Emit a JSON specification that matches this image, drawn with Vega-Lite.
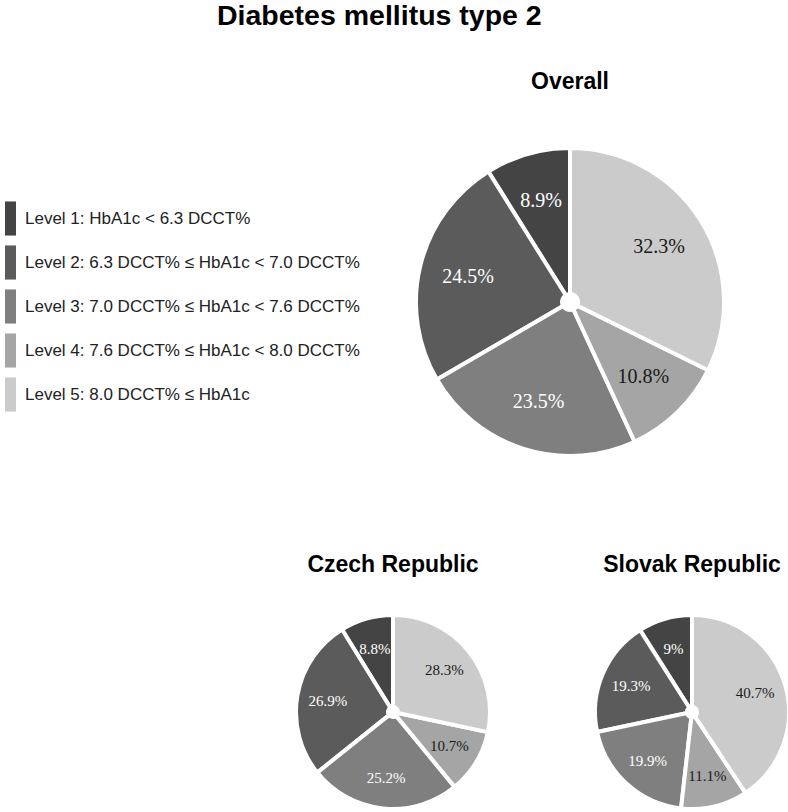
{
  "$schema": "https://vega.github.io/schema/vega-lite/v6.json",
  "background": "white",
  "padding": {"left": 2, "top": 1, "right": -56, "bottom": 0},
  "title": {
    "text": "Diabetes mellitus type 2",
    "font": "Liberation Sans",
    "fontSize": 28.5,
    "fontWeight": "bold",
    "color": "#000000",
    "anchor": "start",
    "frame": "bounds",
    "dx": 215,
    "offset": 41
  },
  "datasets": {
    "pies": [
      {"region": "Overall", "level": "Level 1: HbA1c < 6.3 DCCT%", "share": 0.089},
      {"region": "Overall", "level": "Level 2: 6.3 DCCT% ≤ HbA1c < 7.0 DCCT%", "share": 0.245},
      {"region": "Overall", "level": "Level 3: 7.0 DCCT% ≤ HbA1c < 7.6 DCCT%", "share": 0.235},
      {"region": "Overall", "level": "Level 4: 7.6 DCCT% ≤ HbA1c < 8.0 DCCT%", "share": 0.108},
      {"region": "Overall", "level": "Level 5: 8.0 DCCT% ≤ HbA1c", "share": 0.323},
      {"region": "Czech Republic", "level": "Level 1: HbA1c < 6.3 DCCT%", "share": 0.088},
      {"region": "Czech Republic", "level": "Level 2: 6.3 DCCT% ≤ HbA1c < 7.0 DCCT%", "share": 0.269},
      {"region": "Czech Republic", "level": "Level 3: 7.0 DCCT% ≤ HbA1c < 7.6 DCCT%", "share": 0.252},
      {"region": "Czech Republic", "level": "Level 4: 7.6 DCCT% ≤ HbA1c < 8.0 DCCT%", "share": 0.107},
      {"region": "Czech Republic", "level": "Level 5: 8.0 DCCT% ≤ HbA1c", "share": 0.283},
      {"region": "Slovak Republic", "level": "Level 1: HbA1c < 6.3 DCCT%", "share": 0.09},
      {"region": "Slovak Republic", "level": "Level 2: 6.3 DCCT% ≤ HbA1c < 7.0 DCCT%", "share": 0.193},
      {"region": "Slovak Republic", "level": "Level 3: 7.0 DCCT% ≤ HbA1c < 7.6 DCCT%", "share": 0.199},
      {"region": "Slovak Republic", "level": "Level 4: 7.6 DCCT% ≤ HbA1c < 8.0 DCCT%", "share": 0.111},
      {"region": "Slovak Republic", "level": "Level 5: 8.0 DCCT% ≤ HbA1c", "share": 0.407}
    ]
  },
  "bounds": "flush",
  "spacing": 159,
  "resolve": {"legend": {"color": "independent"}},
  "vconcat": [
    {
      "data": {"name": "pies"},
      "transform": [{"filter": "datum.region === 'Overall'"}],
      "title": {"text": "Overall", "offset": 46},
      "width": 548,
      "height": 308,
      "encoding": {
        "theta": {"field": "share", "type": "quantitative", "stack": true},
        "order": {"field": "level", "type": "ordinal", "sort": "descending"}
      },
      "layer": [
        {
          "mark": {"type": "arc", "radius": 154, "innerRadius": 8, "stroke": "white", "strokeWidth": 4},
          "encoding": {
            "color": {
              "field": "level",
              "type": "nominal",
              "scale": {
                "domain": ["Level 1: HbA1c < 6.3 DCCT%", "Level 2: 6.3 DCCT% ≤ HbA1c < 7.0 DCCT%", "Level 3: 7.0 DCCT% ≤ HbA1c < 7.6 DCCT%", "Level 4: 7.6 DCCT% ≤ HbA1c < 8.0 DCCT%", "Level 5: 8.0 DCCT% ≤ HbA1c"],
                "range": ["#444444", "#5b5b5b", "#7f7f7f", "#a5a5a5", "#cbcbcb"]
              },
              "legend": {
                "title": null,
                "orient": "none",
                "legendX": -294,
                "legendY": 62,
                "symbolType": "M-1,-3.1H1V3.1H-1Z",
                "symbolSize": 121,
                "symbolStrokeWidth": 0,
                "symbolOpacity": 1,
                "rowPadding": 9,
                "labelOffset": 6,
                "labelFont": "Liberation Sans",
                "labelFontSize": 17,
                "labelColor": "#222222",
                "labelLimit": 0
              }
            }
          }
        },
        {
          "mark": {"type": "text", "radius": 105, "font": "Liberation Serif", "fontSize": 20},
          "encoding": {
            "text": {"field": "share", "type": "quantitative", "format": "~%"},
            "detail": {"field": "level"},
            "color": {"condition": {"test": "datum.level < 'Level 4'", "value": "#ffffff"}, "value": "#1a1a1a"}
          }
        }
      ]
    },
    {
      "bounds": "flush",
      "spacing": 105,
      "hconcat": [
        {
          "data": {"name": "pies"},
          "transform": [{"filter": "datum.region === 'Czech Republic'"}],
          "title": {"text": "Czech Republic", "offset": 30},
          "width": 194,
          "height": 194,
          "encoding": {
            "theta": {"field": "share", "type": "quantitative", "stack": true},
            "order": {"field": "level", "type": "ordinal", "sort": "descending"}
          },
          "layer": [
            {
              "mark": {"type": "arc", "radius": 97, "innerRadius": 5, "stroke": "white", "strokeWidth": 4},
              "encoding": {"color": {"field": "level", "type": "nominal", "legend": null}}
            },
            {
              "mark": {"type": "text", "radius": 66, "font": "Liberation Serif", "fontSize": 15},
              "encoding": {
                "text": {"field": "share", "type": "quantitative", "format": "~%"},
                "detail": {"field": "level"},
                "color": {"condition": {"test": "datum.level < 'Level 4'", "value": "#ffffff"}, "value": "#1a1a1a"}
              }
            }
          ]
        },
        {
          "data": {"name": "pies"},
          "transform": [{"filter": "datum.region === 'Slovak Republic'"}],
          "title": {"text": "Slovak Republic", "offset": 30},
          "width": 194,
          "height": 194,
          "encoding": {
            "theta": {"field": "share", "type": "quantitative", "stack": true},
            "order": {"field": "level", "type": "ordinal", "sort": "descending"}
          },
          "layer": [
            {
              "mark": {"type": "arc", "radius": 97, "innerRadius": 5, "stroke": "white", "strokeWidth": 4},
              "encoding": {"color": {"field": "level", "type": "nominal", "legend": null}}
            },
            {
              "mark": {"type": "text", "radius": 66, "font": "Liberation Serif", "fontSize": 15},
              "encoding": {
                "text": {"field": "share", "type": "quantitative", "format": "~%"},
                "detail": {"field": "level"},
                "color": {"condition": {"test": "datum.level < 'Level 4'", "value": "#ffffff"}, "value": "#1a1a1a"}
              }
            }
          ]
        }
      ]
    }
  ],
  "config": {
    "view": {"stroke": null},
    "title": {"font": "Liberation Sans", "fontSize": 23, "fontWeight": "bold", "color": "#000000"}
  }
}
